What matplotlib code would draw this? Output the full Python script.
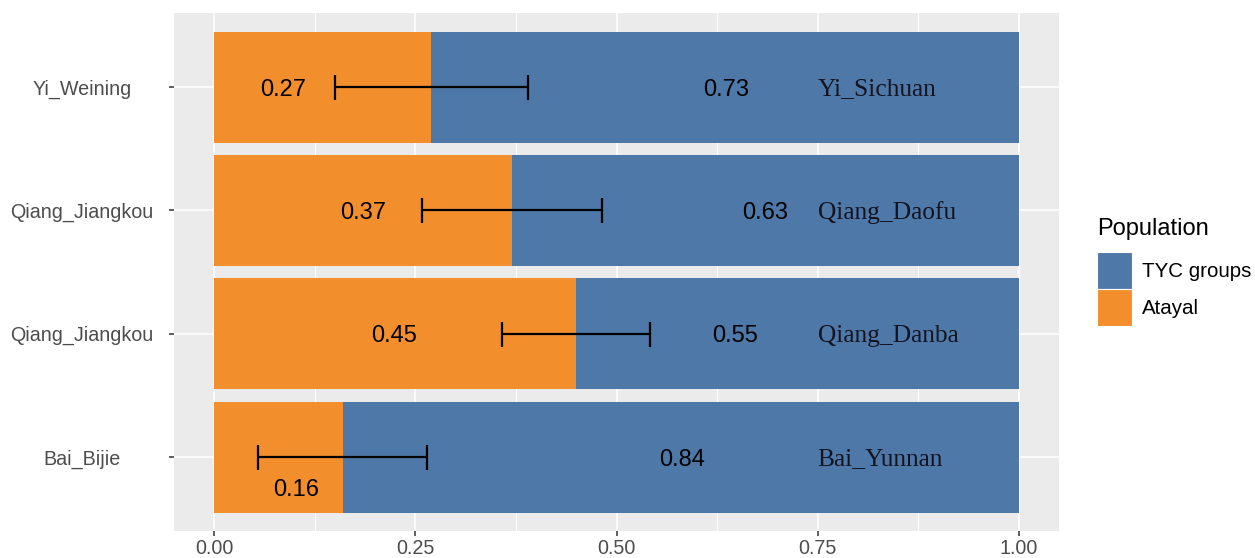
import matplotlib
matplotlib.use('Agg')
import matplotlib.pyplot as plt
from matplotlib.patches import Patch
from matplotlib.ticker import MultipleLocator

plt.rcParams['font.family'] = ['Liberation Sans', 'DejaVu Sans']

# target populations, top to bottom
targets = ['Yi_Weining', 'Qiang_Jiangkou', 'Qiang_Jiangkou', 'Bai_Bijie']
sources = ['Yi_Sichuan', 'Qiang_Daofu', 'Qiang_Danba', 'Bai_Yunnan']
atayal = [0.27, 0.37, 0.45, 0.16]
tyc = [0.73, 0.63, 0.55, 0.84]
se = [0.12, 0.112, 0.092, 0.105]

blue = '#4E78A7'
orange = '#F28E2C'

fig = plt.figure(figsize=(12.55, 5.58), dpi=100)
ax = fig.add_axes([174 / 1255, 27 / 558, 885 / 1255, 518 / 558])
ax.set_facecolor('#EBEBEB')
for s in ax.spines.values():
    s.set_visible(False)

ypos = list(range(len(targets) - 1, -1, -1))

ax.barh(ypos, atayal, height=0.9, color=orange, zorder=2)
ax.barh(ypos, tyc, left=atayal, height=0.9, color=blue, zorder=2)

ax.errorbar(atayal, ypos, xerr=se, fmt='none', ecolor='black',
            elinewidth=1.6, capsize=9, capthick=1.6, zorder=4)

# proportion labels
left_x = [0.086, 0.185, 0.224, 0.102]
left_dy = [0, 0, 0, -0.25]
right_x = [0.636, 0.685, 0.647, 0.582]
for i, y in enumerate(ypos):
    ax.text(left_x[i], y + left_dy[i], f'{atayal[i]:.2f}', ha='center',
            va='center_baseline', fontsize=17, color='black', zorder=5)
    ax.text(right_x[i], y, f'{tyc[i]:.2f}', ha='center', va='center_baseline',
            fontsize=17, color='black', zorder=5)
    ax.text(0.75, y, sources[i], ha='left', va='center_baseline', fontsize=18.3,
            family='Liberation Serif', color='#141420', zorder=5)

ax.set_xlim(-0.05, 1.05)
ax.set_ylim(-0.6, len(targets) - 0.4)
ax.xaxis.set_major_locator(MultipleLocator(0.25))
ax.xaxis.set_minor_locator(MultipleLocator(0.125))
ax.set_xticks([0, 0.25, 0.5, 0.75, 1.0])
ax.set_xticklabels(['0.00', '0.25', '0.50', '0.75', '1.00'])
ax.set_yticks(ypos)
ax.set_yticklabels(targets, ha='center')

ax.grid(which='major', color='white', linewidth=1.2, zorder=0)
ax.grid(which='minor', axis='x', color='white', linewidth=0.7, zorder=0)
ax.set_axisbelow(True)
ax.tick_params(which='minor', length=0)
ax.tick_params(axis='x', which='major', length=3.6, width=1.1, color='#333333',
               labelsize=14.2, labelcolor='#4D4D4D', pad=2.5)
ax.tick_params(axis='y', which='major', length=3.6, width=1.1, color='#333333',
               labelsize=14.2, labelcolor='#4D4D4D', pad=62.5)

# legend: title as plain text, keys stacked below it
fig.text(1097 / 1255, 1 - 229 / 558, 'Population', ha='left', va='center',
         fontsize=17, color='black')
handles = [Patch(facecolor=blue, edgecolor='white', linewidth=0.8, label='TYC groups'),
           Patch(facecolor=orange, edgecolor='white', linewidth=0.8, label='Atayal')]
fig.legend(handles=handles, loc='upper left',
           bbox_to_anchor=(1097 / 1255, 1 - 252 / 558), frameon=False,
           fontsize=14.8, handlelength=1.72, handleheight=2.39,
           labelspacing=0.0, handletextpad=0.45, borderpad=0, borderaxespad=0)

fig.savefig('out.png', dpi=100)
